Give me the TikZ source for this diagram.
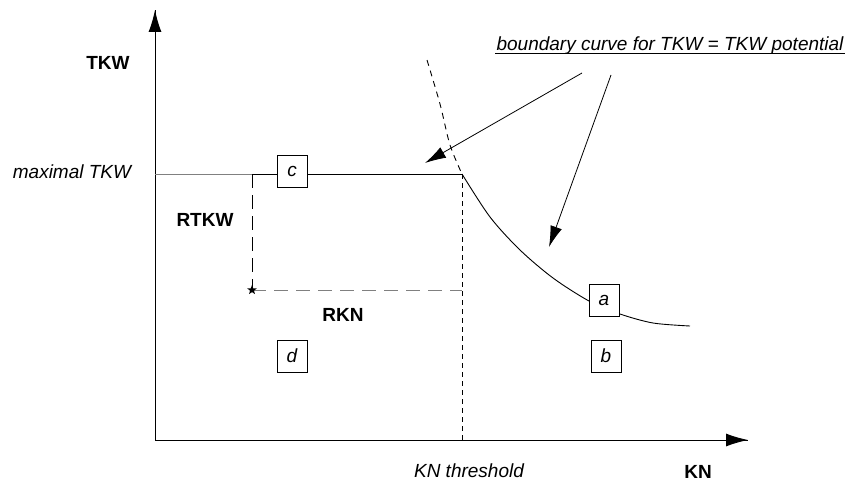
\documentclass[tikz,border=0pt]{standalone}
\usepackage{fontspec}
\setmainfont{Liberation Sans}
\usetikzlibrary{arrows.meta}
\usetikzlibrary{decorations.markings}
\usetikzlibrary{shapes.geometric}
\usetikzlibrary{positioning}
\tikzset{axis/.style = {decoration={markings,
                                    mark=at position 1 with {\arrow{Latex[length=22pt, width=13pt]}}},
                        postaction={decorate}}}
\tikzset{pointer/.style = {-{Latex[length=21pt, width=12pt]}}}
\tikzset{region/.style = {draw, fill=white, inner sep=0, minimum width=30, minimum height=32, font=\fontsize{19}{22}\selectfont\itshape}}
\tikzset{lbl/.style = {font=\fontsize{19}{22}\selectfont\bfseries}}
\tikzset{ilbl/.style = {font=\fontsize{19}{22}\selectfont\itshape}}
\tikzset{starmark/.style = {fill, star, star points=5, star point ratio=2.4, inner sep=0, minimum size=10}}

\begin{document}
\begin{tikzpicture}[x=1pt, y=-1pt, line width=0.9pt]
      \useasboundingbox (0, 0) rectangle (850, 481);

      \coordinate (O) at (155, 440);
      \coordinate (ytop) at (155, 10);
      \coordinate (xend) at (748, 440);
      \coordinate (maxl) at (155, 174);
      \coordinate (corner) at (252, 174);
      \coordinate (P) at (462, 174);
      \coordinate (thr) at (462, 440);
      \coordinate (S) at (252, 290);
      \coordinate (Sr) at (462, 290);

      \draw [axis] (O) -- (ytop);
      \draw [axis] (O) -- (xend);

      \draw [gray] (maxl) -- (corner);
      \draw (corner) -- (P);
      \draw [dash pattern=on 5 off 4] (P) -- (thr); %threshold
      \draw [dash pattern=on 14 off 7] (corner) -- (S);
      \draw [gray, dash pattern=on 14 off 8] (S) -- (Sr);
      \node [starmark] at (S) {};

      \draw [dash pattern=on 6 off 5] plot [smooth] coordinates {(427, 60) (440, 104) (450, 145) (P)};
      \draw plot [smooth] coordinates {(P) (490, 217) (520, 250) (553, 278) (589, 301) (620, 314) (653, 323) (690, 326)};

      \node [region] (c) at (292, 171) {c};
      \node [region] (a) at (604, 300) {a};
      \node [region] (b) at (606, 356) {b};
      \node [region] (d) at (292, 356) {d};

      \node [lbl] (tkw) at (108, 63) {TKW};
      \node [ilbl] (maxtkw) at (72, 172) {maximal TKW};
      \node [lbl] (rtkw) at (205, 220) {RTKW};
      \node [lbl] (rkn) at (343, 315) {RKN};
      \node [ilbl] (kthr) at (469, 471) {KN threshold};
      \node [lbl] (kn) at (698, 472) {KN};
      \node [ilbl, inner sep=1] (title) at (670, 46) {boundary curve for TKW = TKW potential};
      \draw [line width=1pt] (title.base west) ++(0, 3) -- ([yshift=-3]title.base east);

      \coordinate (t1) at (582, 73);
      \coordinate (t2) at (611, 75);
      \coordinate (h1) at (425, 163);
      \coordinate (h2) at (549, 247);
      \draw [pointer, line width=0.8pt] (t1) -- (h1);
      \draw [pointer, line width=0.8pt] (t2) -- (h2);
\end{tikzpicture}
\end{document}
